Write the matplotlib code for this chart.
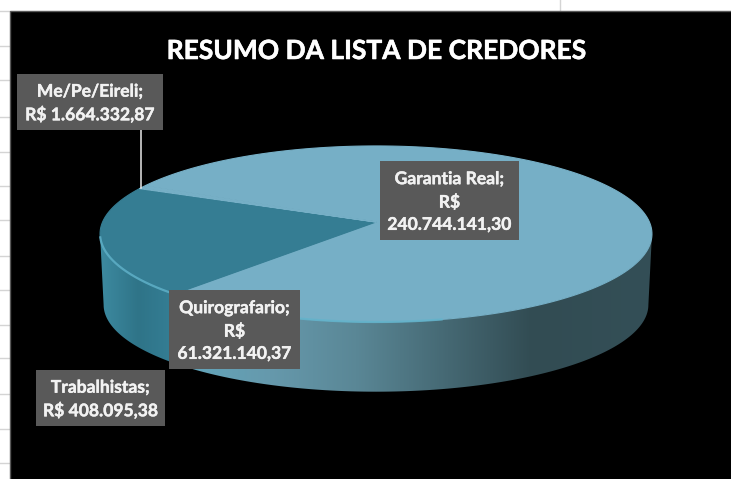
import numpy as np
import matplotlib
matplotlib.use('Agg')
import matplotlib.pyplot as plt
import matplotlib.patheffects as pe
from matplotlib.colors import LinearSegmentedColormap
from matplotlib.patches import Polygon, Rectangle

plt.rcParams['font.family'] = ['Lato', 'DejaVu Sans']

# data
names = ['Garantia Real', 'Quirografario', 'Trabalhistas', 'Me/Pe/Eireli']
valores = [240744141.30, 61321140.37, 408095.38, 1664332.87]
textos = ['R$\n240.744.141,30', 'R$\n61.321.140,37', 'R$ 408.095,38', 'R$ 1.664.332,87']
titulo = 'RESUMO DA LISTA DE CREDORES'

# styles
cor_topo = ['#76AFC6', '#357D93', '#76AFC6', '#76AFC6']
cor_lado = [[(0.0, '#62A8BE'), (0.2, '#6699AC'), (0.38, '#5A8796'), (0.75, '#324C53'), (1.0, '#344F57')],
            [(0.0, '#3D8AA0'), (0.5, '#2F7488'), (1.0, '#357F96')],
            [(0.0, '#357F96'), (1.0, '#357F96')],
            [(0.0, '#344F57'), (1.0, '#344F57')]]
caixas = [(380, 161, 519, 240), (169, 290, 300, 369), (36, 370, 165, 426), (17, 74, 163, 130)]

# pie geometry in pixels, with a small perspective
cx, cy = 376, 222
rx, ry = 273.4, 86.4
k = 0.136
prof = 71
escala_base = 0.987
fim_primeira = 228.5   # angle where the first slice ends, going clockwise


def projeta(theta, desce=0, esc=1.0):
    u = np.cos(np.radians(theta))
    v = np.sin(np.radians(theta))
    w = 1 + k * v
    return cx + esc * rx * u / w, cy + desce - esc * ry * v / w


fig = plt.figure(figsize=(7.31, 4.79), dpi=100, facecolor='white')
ax = fig.add_axes([0, 0, 1, 1])
ax.set_xlim(0, 731)
ax.set_ylim(479, 0)
ax.axis('off')

# spreadsheet behind the chart
for y in [11, 46, 80, 117, 152, 186, 220, 256, 290, 325, 358, 394, 429, 463]:
    ax.plot([0, 9], [y, y], color='#D4D4D4', lw=1, zorder=0)
ax.plot([559.5, 559.5], [0, 10], color='#D4D4D4', lw=1, zorder=0)
ax.add_patch(Rectangle((9.5, 10.5), 730, 480, facecolor='black', edgecolor='#5A5A5A', lw=1, zorder=1))

total = sum(valores)
fatias = []
a = fim_primeira + 360 * valores[0] / total
for v in valores:
    b = a - 360 * v / total
    fatias.append((a, b))
    a = b

# side wall, only the part of the rim below the widest points shows
for (a, b), stops in zip(fatias, cor_lado):
    th = np.linspace(a, b, 400)
    th = th[np.sin(np.radians(th)) <= -k]
    if len(th) < 2:
        continue
    x1, y1 = projeta(th)
    x2, y2 = projeta(th, desce=prof, esc=escala_base)
    xs = np.r_[x1, x2[::-1]]
    ys = np.r_[y1, y2[::-1]]
    parede = Polygon(np.c_[xs, ys], closed=True, transform=ax.transData, facecolor='none', edgecolor='none')
    ax.add_patch(parede)
    cmap = LinearSegmentedColormap.from_list('lado', stops)
    im = ax.imshow(np.linspace(0, 1, 256)[None, :], extent=(xs.min(), xs.max(), ys.max(), ys.min()),
                   cmap=cmap, aspect='auto', zorder=2)
    im.set_clip_path(parede)

# top of the pie
for (a, b), cor in zip(fatias, cor_topo):
    th = np.linspace(a, b, 200)
    x, y = projeta(th)
    ax.add_patch(Polygon(np.c_[np.r_[cx, x], np.r_[cy, y]], closed=True, facecolor=cor, edgecolor=cor, lw=0.8, zorder=3))

# bevel on the front rim
th = np.linspace(190, 282, 150)
x, y = projeta(th)
ax.plot(x, y, color='#62B4CC', lw=1.6, alpha=0.8, zorder=4)

ax.set_xlim(0, 731)
ax.set_ylim(479, 0)

# leader line of the small slice
ax.plot([140.5, 140.5], [130, 188], color='#E8E8E8', lw=1.1, zorder=5)

ax.text(376, 51, titulo, color='white', fontsize=19, fontweight='bold', ha='center', va='center', zorder=6,
        path_effects=[pe.withStroke(linewidth=0.4, foreground='white')])

for nome, texto, (x0, y0, x1, y1) in zip(names, textos, caixas):
    ax.add_patch(Rectangle((x0, y0), x1 - x0, y1 - y0, facecolor='#595959', edgecolor='none', zorder=6))
    ax.text((x0 + x1) / 2, (y0 + y1) / 2 + 1.5, nome + ';\n' + texto, color='#F2F2F2', fontsize=12.6,
            fontweight='bold', ha='center', va='center', linespacing=1.47, zorder=7,
            path_effects=[pe.withStroke(linewidth=0.3, foreground='#F2F2F2')])

fig.savefig('out.png', dpi=100, facecolor='white')
